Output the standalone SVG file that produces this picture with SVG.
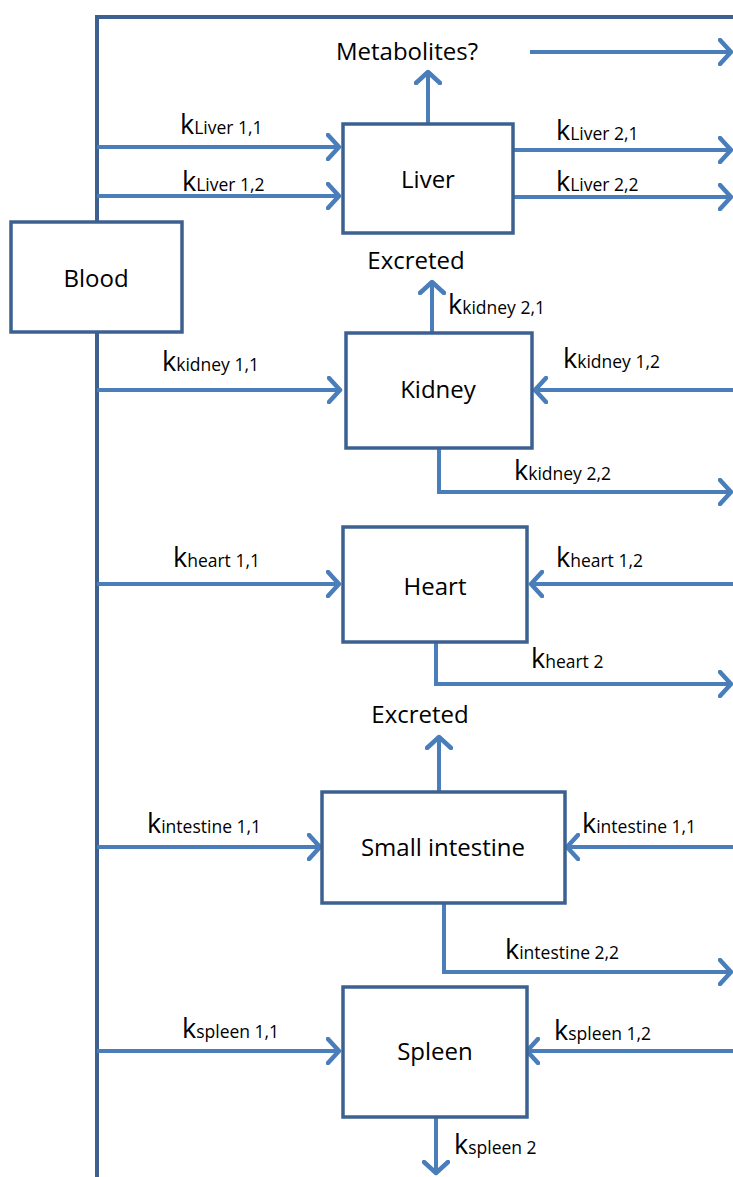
<svg xmlns="http://www.w3.org/2000/svg" width="733" height="1177" viewBox="0 0 733 1177">
<style>
.box{fill:#fff;stroke:#3C6191;stroke-width:3.5}
.trunk{fill:none;stroke:#3C6191;stroke-width:4}
.arr{fill:none;stroke:#4A7EBB;stroke-width:4;marker-end:url(#ah)}
text{font-family:"Open Sans","Liberation Sans",sans-serif;fill:#000}
.t{font-size:24px}
.k{font-size:27px}
.s{font-size:17.5px}
</style>
<defs>
<marker id="ah" viewBox="0 0 16 28" refX="13" refY="14" markerWidth="16" markerHeight="28" markerUnits="userSpaceOnUse" orient="auto">
<path d="M2,2 L13,14 L2,26" fill="none" stroke="#4A7EBB" stroke-width="4.5" stroke-linecap="round" stroke-linejoin="round"/>
</marker>
</defs>
<g id="connectors">
<path class="trunk" d="M733,17 H97 V222 M97,333 V1177"/>
<path class="arr" d="M428,124 V72"/>
<path class="arr" d="M530,52 H731"/>
<path class="arr" d="M97,147 H339"/>
<path class="arr" d="M97,196 H339"/>
<path class="arr" d="M513,150 H731"/>
<path class="arr" d="M513,197 H731"/>
<path class="arr" d="M432,333 V282"/>
<path class="arr" d="M97,390 H340"/>
<path class="arr" d="M733,390 H535"/>
<path class="arr" d="M439,448 V492 H731"/>
<path class="arr" d="M97,584 H339"/>
<path class="arr" d="M733,584 H531"/>
<path class="arr" d="M436,642 V684 H731"/>
<path class="arr" d="M439,792 V737"/>
<path class="arr" d="M97,847 H320"/>
<path class="arr" d="M733,847 H567"/>
<path class="arr" d="M444,903 V972 H731"/>
<path class="arr" d="M97,1051 H339"/>
<path class="arr" d="M733,1051 H527"/>
<path class="arr" d="M436,1117 V1173"/>
<text class="t" x="407" y="60" text-anchor="middle">Metabolites?</text>
<text class="t" x="416" y="269" text-anchor="middle">Excreted</text>
<text class="t" x="420" y="723" text-anchor="middle">Excreted</text>
<text x="180" y="134"><tspan class="k">k</tspan><tspan class="s">Liver 1,1</tspan></text>
<text x="182" y="191"><tspan class="k">k</tspan><tspan class="s">Liver 1,2</tspan></text>
<text x="556" y="140"><tspan class="k">k</tspan><tspan class="s">Liver 2,1</tspan></text>
<text x="556" y="191"><tspan class="k">k</tspan><tspan class="s">Liver 2,2</tspan></text>
<text x="448" y="314"><tspan class="k">k</tspan><tspan class="s">kidney 2,1</tspan></text>
<text x="162" y="371"><tspan class="k">k</tspan><tspan class="s">kidney 1,1</tspan></text>
<text x="563" y="368"><tspan class="k">k</tspan><tspan class="s">kidney 1,2</tspan></text>
<text x="514" y="480"><tspan class="k">k</tspan><tspan class="s">kidney 2,2</tspan></text>
<text x="173" y="567"><tspan class="k">k</tspan><tspan class="s">heart 1,1</tspan></text>
<text x="556" y="567"><tspan class="k">k</tspan><tspan class="s">heart 1,2</tspan></text>
<text x="531" y="668"><tspan class="k">k</tspan><tspan class="s">heart 2</tspan></text>
<text x="147" y="833"><tspan class="k">k</tspan><tspan class="s">intestine 1,1</tspan></text>
<text x="582" y="833"><tspan class="k">k</tspan><tspan class="s">intestine 1,1</tspan></text>
<text x="505" y="959"><tspan class="k">k</tspan><tspan class="s">intestine 2,2</tspan></text>
<text x="182" y="1038"><tspan class="k">k</tspan><tspan class="s">spleen 1,1</tspan></text>
<text x="554" y="1040"><tspan class="k">k</tspan><tspan class="s">spleen 1,2</tspan></text>
<text x="454" y="1154"><tspan class="k">k</tspan><tspan class="s">spleen 2</tspan></text>
</g>
<g id="blood"><rect class="box" x="11" y="222" width="171" height="110"/><text class="t" x="96" y="287" text-anchor="middle">Blood</text></g>
<g id="liver"><rect class="box" x="343" y="124" width="170" height="109"/><text class="t" x="428" y="188" text-anchor="middle">Liver</text></g>
<g id="kidney"><rect class="box" x="346" y="333" width="186" height="115"/><text class="t" x="438" y="398" text-anchor="middle">Kidney</text></g>
<g id="heart"><rect class="box" x="343" y="527" width="184" height="115"/><text class="t" x="435" y="595" text-anchor="middle">Heart</text></g>
<g id="small-intestine"><rect class="box" x="322" y="792" width="243" height="111"/><text class="t" x="443" y="856" text-anchor="middle">Small intestine</text></g>
<g id="spleen"><rect class="box" x="343" y="987" width="184" height="130"/><text class="t" x="435" y="1060" text-anchor="middle">Spleen</text></g>
</svg>
